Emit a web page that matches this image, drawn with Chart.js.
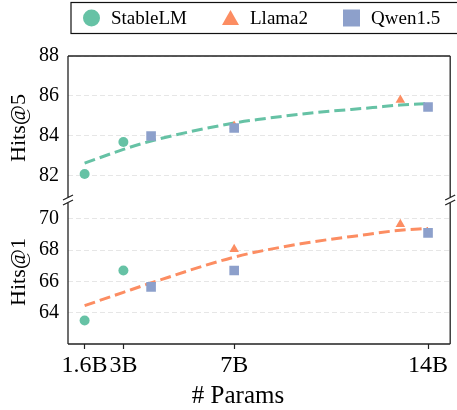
<!DOCTYPE html>
<html>
<head>
<meta charset="utf-8">
<script src="https://cdn.jsdelivr.net/npm/chart.js@4.4.1/dist/chart.umd.min.js"></script>
<style>
  html, body { margin: 0; padding: 0; background: #fff; }
  #wrap { width: 457px; height: 410px; }
</style>
</head>
<body>
<div id="wrap"><canvas id="paramsChart"></canvas></div>
<script>
// model sizes (billions) and scores
const stablelmParams = [1.6, 3];
const stablelmHits5 = [82.1, 83.7];
const stablelmHits1 = [63.5, 66.7];

const llamaParams = [7, 13];
const llamaHits5 = [84.5, 85.8];
const llamaHits1 = [68.05, 69.65];

const qwenParams = [4, 7, 14];
const qwenHits5 = [84.0, 84.4, 85.45];
const qwenHits1 = [65.65, 66.7, 69.1];

// dashed trend curves
const trend5Params = [1.6, 3, 4, 7, 8, 10, 12, 13, 14];
const trend5Values = [82.64, 83.33, 83.75, 84.65, 84.85, 85.18, 85.42, 85.55, 85.62];
const trend1Params = [1.6, 3, 4, 7, 9.4, 11.8, 13, 14];
const trend1Values = [64.45, 65.3, 65.9, 67.55, 68.4, 69.0, 69.27, 69.38];

const seriesNames = ['StableLM', 'Llama2', 'Qwen1.5'];
const xTickValues = [1.6, 3, 7, 14];
const xTickLabels = ['1.6B', '3B', '7B', '14B'];
const hits5Ticks = [82, 84, 86, 88];
const hits1Ticks = [64, 66, 68, 70];
const xTitle = '# Params';

const GREEN = '#66c2a5', ORANGE = '#fc8d62', BLUE = '#8da0cb';
const SERIF = '"Liberation Serif", "DejaVu Serif", serif';

const pts = (xs, ys) => xs.map((x, i) => ({ x: x, y: ys[i] }));

function marker(label, xs, ys, axis, style, color, radius, order, legend) {
    return {
        label: label,
        data: pts(xs, ys),
        yAxisID: axis,
        pointStyle: style,
        pointRadius: radius,
        pointHoverRadius: radius,
        pointBackgroundColor: color,
        pointBorderColor: color,
        pointBorderWidth: 0,
        backgroundColor: color,
        borderColor: color,
        showLine: false,
        order: order,
        inLegend: legend
    };
}

function trend(xs, ys, axis, color) {
    return {
        label: 'trend',
        data: pts(xs, ys),
        yAxisID: axis,
        showLine: true,
        borderColor: color,
        borderWidth: 3,
        borderDash: [11, 5],
        pointRadius: 0,
        pointHoverRadius: 0,
        cubicInterpolationMode: 'monotone',
        fill: false,
        order: 10
    };
}

// spines with the axis break, x title and the boxed legend
const framePlugin = {
    id: 'frame',
    afterDraw(chart) {
        const ctx = chart.ctx;
        const a = chart.chartArea;
        const b = chart.scales.yTop.bottom;
        const g = 2.5;
        ctx.save();
        ctx.strokeStyle = '#222';
        ctx.lineWidth = 1.3;
        ctx.beginPath();
        ctx.moveTo(a.left, a.top); ctx.lineTo(a.right, a.top);
        ctx.moveTo(a.left, a.bottom); ctx.lineTo(a.right, a.bottom);
        [a.left, a.right].forEach(x => {
            ctx.moveTo(x, a.top); ctx.lineTo(x, b - g);
            ctx.moveTo(x, b + g); ctx.lineTo(x, a.bottom);
            [b - g, b + g].forEach(y => {
                ctx.moveTo(x - 5, y + 2.5); ctx.lineTo(x + 5, y - 2.5);
            });
        });
        ctx.stroke();

        // x axis title (sits left of the plot centre in the original)
        ctx.fillStyle = '#000';
        ctx.font = '25px ' + SERIF;
        ctx.textAlign = 'center';
        ctx.textBaseline = 'middle';
        ctx.fillText(xTitle, 238, 396);

        // legend
        ctx.fillStyle = '#fff';
        ctx.fillRect(71, 2.5, 400, 31);
        ctx.strokeStyle = '#111';
        ctx.lineWidth = 1.2;
        ctx.strokeRect(71, 2.5, 400, 31);
        ctx.font = '19px ' + SERIF;
        ctx.textAlign = 'left';
        let x = 83;
        const cy = 18;
        chart.data.datasets.filter(d => d.inLegend).forEach(d => {
            const cx = x + 8.5;
            ctx.fillStyle = d.pointBackgroundColor;
            ctx.beginPath();
            if (d.pointStyle === 'circle') {
                ctx.arc(cx, cy, 8.5, 0, Math.PI * 2);
            } else if (d.pointStyle === 'triangle') {
                ctx.moveTo(cx, cy - 8);
                ctx.lineTo(cx + 8.5, cy + 7);
                ctx.lineTo(cx - 8.5, cy + 7);
                ctx.closePath();
            } else {
                ctx.rect(cx - 8.5, cy - 8.5, 17, 17);
            }
            ctx.fill();
            ctx.fillStyle = '#000';
            ctx.fillText(d.label, x + 28, cy + 1);
            x += 28 + ctx.measureText(d.label).width + 35;
        });
        ctx.restore();
    }
};

const yAxis = (min, max, tickVals, title) => ({
    type: 'linear',
    position: 'left',
    stack: 'hits',
    stackWeight: 1,
    min: min,
    max: max,
    afterBuildTicks: scale => { scale.ticks = tickVals.map(v => ({ value: v })); },
    afterFit: scale => { scale.width = 68; },
    ticks: {
        font: { family: SERIF, size: 20 },
        color: '#000',
        padding: 9
    },
    grid: { color: '#e6e6e6', lineWidth: 1, drawTicks: false },
    border: { display: false, dash: [5, 3] },
    title: {
        display: true,
        text: title,
        font: { family: SERIF, size: 22 },
        color: '#000',
        padding: { top: 6, bottom: 4 }
    }
});

const ctx = document.getElementById('paramsChart').getContext('2d');

new Chart(ctx, {
    type: 'scatter',
    data: {
        datasets: [
            marker(seriesNames[0], stablelmParams, stablelmHits5, 'yTop', 'circle', GREEN, 5, 2, true),
            marker(seriesNames[1], llamaParams, llamaHits5, 'yTop', 'triangle', ORANGE, 5.5, 3, true),
            marker(seriesNames[2], qwenParams, qwenHits5, 'yTop', 'rect', BLUE, 6.8, 1, true),
            marker(seriesNames[0], stablelmParams, stablelmHits1, 'yBottom', 'circle', GREEN, 5, 2, false),
            marker(seriesNames[1], llamaParams, llamaHits1, 'yBottom', 'triangle', ORANGE, 5.5, 3, false),
            marker(seriesNames[2], qwenParams, qwenHits1, 'yBottom', 'rect', BLUE, 6.8, 1, false),
            trend(trend5Params, trend5Values, 'yTop', GREEN),
            trend(trend1Params, trend1Values, 'yBottom', ORANGE)
        ]
    },
    options: {
        responsive: true,
        maintainAspectRatio: false,
        animation: false,
        layout: {
            padding: { top: 56, right: 4, left: 0, bottom: 0 }
        },
        scales: {
            x: {
                type: 'linear',
                position: 'bottom',
                min: 1,
                max: 14.8,
                afterBuildTicks: scale => { scale.ticks = xTickValues.map(v => ({ value: v })); },
                afterFit: scale => {
                    scale.height = 66;
                    scale.paddingLeft = 0;
                    scale.paddingRight = 0;
                },
                ticks: {
                    font: { family: SERIF, size: 24 },
                    color: '#000',
                    padding: 2,
                    maxRotation: 0,
                    callback: v => xTickLabels[xTickValues.indexOf(v)]
                },
                grid: {
                    drawOnChartArea: false,
                    drawTicks: true,
                    tickLength: 5,
                    tickColor: '#222',
                    tickWidth: 1.2
                },
                border: { display: false }
            },
            yBottom: yAxis(62, 71.2, hits1Ticks, 'Hits@1'),
            yTop: yAxis(80.8, 88, hits5Ticks, 'Hits@5')
        },
        plugins: {
            legend: { display: false },
            tooltip: { enabled: false }
        }
    },
    plugins: [framePlugin]
});
</script>
</body>
</html>
